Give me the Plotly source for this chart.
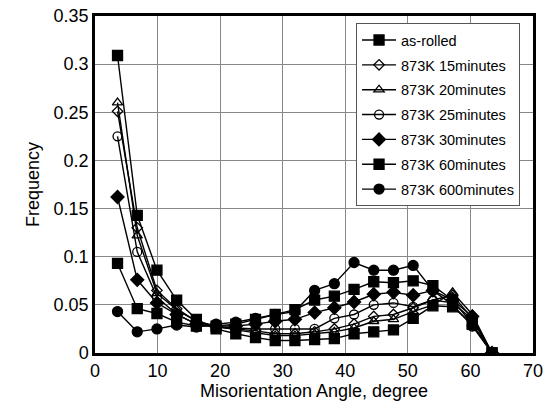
import plotly.graph_objects as go

angles = [3.6 + 3.15 * k for k in range(20)]

as_rolled = [0.309, 0.143, 0.086, 0.055, 0.035, 0.025, 0.020, 0.016, 0.013, 0.013, 0.014, 0.015, 0.020, 0.022, 0.024, 0.036, 0.049, 0.048, 0.030, 0.0]
m15 = [0.251, 0.130, 0.065, 0.046, 0.033, 0.027, 0.025, 0.023, 0.020, 0.020, 0.022, 0.025, 0.030, 0.038, 0.040, 0.047, 0.055, 0.060, 0.036, 0.0]
m20 = [0.260, 0.122, 0.062, 0.045, 0.033, 0.028, 0.024, 0.021, 0.018, 0.018, 0.020, 0.022, 0.026, 0.033, 0.035, 0.043, 0.050, 0.063, 0.040, 0.0]
m25 = [0.225, 0.105, 0.058, 0.040, 0.030, 0.027, 0.026, 0.025, 0.025, 0.025, 0.025, 0.036, 0.040, 0.050, 0.052, 0.048, 0.055, 0.052, 0.035, 0.0]
m30 = [0.162, 0.076, 0.052, 0.040, 0.030, 0.028, 0.028, 0.030, 0.033, 0.035, 0.042, 0.047, 0.053, 0.061, 0.063, 0.060, 0.065, 0.055, 0.038, 0.0]
m60 = [0.093, 0.046, 0.041, 0.032, 0.028, 0.028, 0.030, 0.035, 0.040, 0.045, 0.055, 0.059, 0.066, 0.074, 0.073, 0.075, 0.070, 0.055, 0.030, 0.0]
m600 = [0.043, 0.022, 0.025, 0.029, 0.027, 0.030, 0.032, 0.036, 0.040, 0.043, 0.065, 0.072, 0.094, 0.086, 0.086, 0.091, 0.065, 0.050, 0.028, 0.0]

names = ["as-rolled", "873K 15minutes", "873K 20minutes", "873K 25minutes",
         "873K 30minutes", "873K 60minutes", "873K 600minutes"]
series = [as_rolled, m15, m20, m25, m30, m60, m600]
symbols = ["square", "diamond-open", "triangle-up-open", "circle-open",
           "diamond", "square", "circle"]
sizes = [10, 8, 9, 9, 10, 10, 10]

fig = go.Figure()
for i, (nm, ys, sym, sz) in enumerate(zip(names, series, symbols, sizes)):
    fig.add_trace(go.Scatter(
        x=angles, y=ys, name=nm, mode="lines+markers",
        line=dict(color="black", width=1.4),
        marker=dict(symbol=sym, size=sz, color="black",
                    line=dict(color="black", width=1.3)),
        legendgroup=f"g{i}",
    ))

font = "Liberation Sans, Arial, sans-serif"
fig.update_layout(
    width=553, height=418,
    margin=dict(l=95, r=20, t=16, b=65, autoexpand=False),
    paper_bgcolor="white", plot_bgcolor="white",
    font=dict(family=font, size=18, color="black"),
    legend=dict(x=0.596, y=0.979, xanchor="left", yanchor="top",
                bgcolor="white", bordercolor="#555", borderwidth=1,
                font=dict(size=14.5, family=font), tracegroupgap=3,
                itemwidth=34),
    xaxis=dict(range=[0, 70], dtick=10, showgrid=True, gridcolor="#888",
               gridwidth=1, showline=True, linecolor="black", linewidth=2.5,
               mirror=True, zeroline=False, ticks="", automargin=False,
               title=dict(text="Misorientation Angle, degree", standoff=4,
                          font=dict(size=18))),
    yaxis=dict(range=[0, 0.35], dtick=0.05, showgrid=True, gridcolor="#888",
               gridwidth=1, showline=True, linecolor="black", linewidth=2.5,
               mirror=True, zeroline=False, ticks="", automargin=False,
               title=dict(text="Frequency", standoff=10, font=dict(size=18))),
    showlegend=True,
)
fig.write_html("out.html",
               config={"displayModeBar": False},
               post_script="document.body.style.margin='0';document.body.style.overflow='hidden';")
